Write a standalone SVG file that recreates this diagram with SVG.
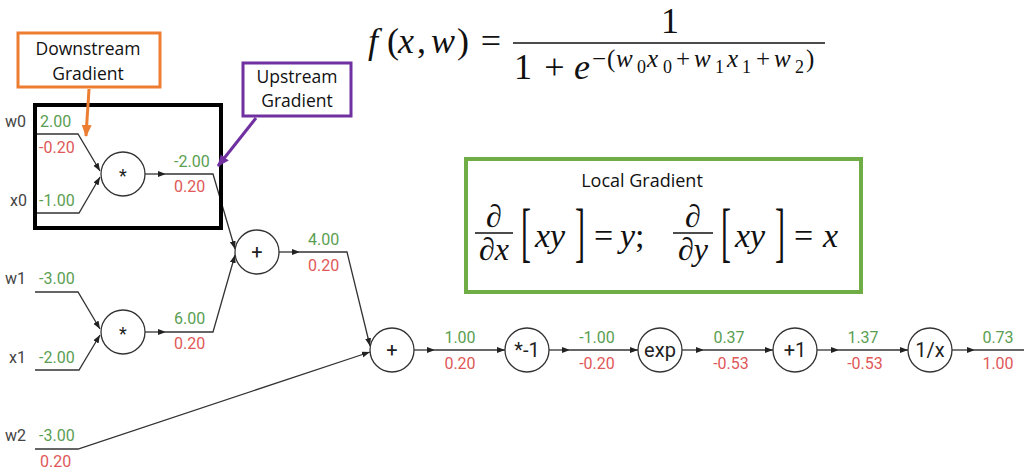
<svg xmlns="http://www.w3.org/2000/svg" width="1024" height="475" viewBox="0 0 1024 475">
<defs>
<style>
.edge{fill:none;stroke:#333;stroke-width:1.3;marker-end:url(#ah)}
.node circle{fill:#fff;stroke:#333;stroke-width:1.3}
.op{font-family:Roboto,"Liberation Sans",sans-serif;font-size:20px;fill:#222;text-anchor:middle}
.g{font-family:Roboto,"Liberation Sans",sans-serif;font-size:16px;fill:#5a9e52}
.r{font-family:Roboto,"Liberation Sans",sans-serif;font-size:16px;fill:#e05858}
.lbl{font-family:Roboto,"Liberation Sans",sans-serif;font-size:16px;fill:#444}
.c{text-anchor:middle}
.call{font-family:"Open Sans","Liberation Sans",sans-serif;font-size:17.5px;fill:#111;text-anchor:middle}
.m{font-family:"Liberation Serif","DejaVu Serif",serif;fill:#111}
.i{font-style:italic}
.big{font-size:36px}
.sup{font-size:25px}
.sub{font-size:18px}
.mid{text-anchor:middle}
</style>
<marker id="ah" markerUnits="userSpaceOnUse" markerWidth="9" markerHeight="7" refX="8" refY="3" orient="auto">
<path d="M0,0 L8,3 L0,6 z" fill="#222"/>
</marker>
<marker id="ahO" markerUnits="userSpaceOnUse" markerWidth="14" markerHeight="12" refX="11" refY="5" orient="auto">
<path d="M0,0 L12,5 L0,10 z" fill="#ed7d31"/>
</marker>
<marker id="ahP" markerUnits="userSpaceOnUse" markerWidth="14" markerHeight="12" refX="11" refY="5" orient="auto">
<path d="M0,0 L12,5 L0,10 z" fill="#7030a0"/>
</marker>
</defs>
<rect width="1024" height="475" fill="#fff"/>

<g id="connectors">
<path class="edge" d="M35,134 L78,134 L100,171"/>
<path class="edge" d="M35,213 L79,213 L100,177"/>
<path class="edge" d="M145,174 L166,174"/>
<path class="edge" d="M166,174 L213,174 L235,249"/>
<path class="edge" d="M35,292 L78,292 L100,329"/>
<path class="edge" d="M35,370 L79,370 L100,335"/>
<path class="edge" d="M145,332 L166,332"/>
<path class="edge" d="M166,332 L213,332 L235,255"/>
<path class="edge" d="M279,252 L300,252"/>
<path class="edge" d="M300,252 L347,252 L370,346"/>
<path class="edge" d="M35,449 L78,449 L370,352"/>
<path class="edge" d="M414,350 L435,350"/>
<path class="edge" d="M435,350 L505,350"/>
<path class="edge" d="M549,350 L570,350"/>
<path class="edge" d="M570,350 L638,350"/>
<path class="edge" d="M682,350 L704,350"/>
<path class="edge" d="M704,350 L773,350"/>
<path class="edge" d="M817,350 L839,350"/>
<path class="edge" d="M839,350 L908,350"/>
<path class="edge" d="M952,350 L975,350"/>
<path class="edge" d="M975,350 L1024,350" style="marker-end:none"/>
</g>

<g id="inputs">
<text class="lbl" x="5" y="127">w0</text>
<text class="g" x="40" y="127">2.00</text>
<text class="r" x="39" y="153">-0.20</text>
<text class="lbl" x="10" y="206">x0</text>
<text class="g" x="39" y="206">-1.00</text>
<text class="lbl" x="5" y="284">w1</text>
<text class="g" x="39" y="284">-3.00</text>
<text class="lbl" x="9" y="363">x1</text>
<text class="g" x="39" y="363">-2.00</text>
<text class="lbl" x="5" y="441">w2</text>
<text class="g" x="39" y="441">-3.00</text>
<text class="r" x="40" y="467">0.20</text>
</g>

<g id="mul0" class="node">
<circle cx="123" cy="174" r="22"/>
<text class="op" x="123" y="182" style="font-size:18px">*</text>
<text class="g" x="174" y="167">-2.00</text>
<text class="r" x="174" y="192">0.20</text>
</g>
<g id="mul1" class="node">
<circle cx="123" cy="332" r="22"/>
<text class="op" x="123" y="340" style="font-size:18px">*</text>
<text class="g" x="174" y="324">6.00</text>
<text class="r" x="174" y="349">0.20</text>
</g>
<g id="add0" class="node">
<circle cx="257" cy="252" r="22"/>
<text class="op" x="257" y="259">+</text>
<text class="g" x="308" y="245">4.00</text>
<text class="r" x="308" y="271">0.20</text>
</g>
<g id="add1" class="node">
<circle cx="392" cy="350" r="22"/>
<text class="op" x="392" y="357">+</text>
<text class="g c" x="460" y="343">1.00</text>
<text class="r c" x="460" y="369">0.20</text>
</g>
<g id="neg" class="node">
<circle cx="527" cy="350" r="22"/>
<text class="op" x="527" y="357">*-1</text>
<text class="g c" x="597" y="343">-1.00</text>
<text class="r c" x="597" y="369">-0.20</text>
</g>
<g id="exp" class="node">
<circle cx="660" cy="350" r="22"/>
<text class="op" x="660" y="357">exp</text>
<text class="g c" x="729" y="343">0.37</text>
<text class="r c" x="731" y="369">-0.53</text>
</g>
<g id="plus1" class="node">
<circle cx="795" cy="350" r="22"/>
<text class="op" x="795" y="357">+1</text>
<text class="g c" x="863" y="343">1.37</text>
<text class="r c" x="865" y="369">-0.53</text>
</g>
<g id="recip" class="node">
<circle cx="930" cy="350" r="22"/>
<text class="op" x="930" y="357">1/x</text>
<text class="g c" x="998" y="343">0.73</text>
<text class="r c" x="998" y="369">1.00</text>
</g>

<g id="highlight">
<rect x="35" y="105" width="186" height="123" fill="none" stroke="#000" stroke-width="4"/>
</g>

<g id="downstream">
<rect x="18" y="33" width="142" height="54" fill="#fff" stroke="#ed7d31" stroke-width="3"/>
<text class="call" x="88" y="55">Downstream</text>
<text class="call" x="88" y="80">Gradient</text>
<line x1="89" y1="89" x2="86" y2="136" stroke="#ed7d31" stroke-width="3" marker-end="url(#ahO)"/>
</g>

<g id="upstream">
<rect x="243" y="63" width="108" height="53" fill="#fff" stroke="#7030a0" stroke-width="3"/>
<text class="call" x="297" y="83">Upstream</text>
<text class="call" x="297" y="107">Gradient</text>
<line x1="256" y1="118" x2="218" y2="166" stroke="#7030a0" stroke-width="3" marker-end="url(#ahP)"/>
</g>

<g id="formula" class="m">
<text class="big" y="53"><tspan class="i" x="368">f</tspan><tspan x="387">(</tspan><tspan class="i" x="398">x</tspan><tspan x="417">,</tspan><tspan class="i" x="431">w</tspan><tspan x="457">)</tspan></text>
<text class="big mid" x="491" y="53">=</text>
<text class="big mid" x="670" y="33">1</text>
<line x1="513" y1="43" x2="825" y2="43" stroke="#111" stroke-width="1.4"/>
<text class="big" y="79"><tspan class="mid" x="523">1</tspan><tspan class="mid" x="554.5">+</tspan><tspan class="i" x="574">e</tspan></text>
<text class="sup" y="67"><tspan x="592">−</tspan><tspan x="607">(</tspan><tspan class="i" x="616">w</tspan><tspan class="sub" x="637" y="73">0</tspan><tspan class="i" x="647" y="67">x</tspan><tspan class="sub" x="663" y="73">0</tspan><tspan x="676" y="67">+</tspan><tspan class="i" x="694">w</tspan><tspan class="sub" x="715" y="73">1</tspan><tspan class="i" x="727" y="67">x</tspan><tspan class="sub" x="742" y="73">1</tspan><tspan x="756" y="67">+</tspan><tspan class="i" x="774">w</tspan><tspan class="sub" x="795" y="73">2</tspan><tspan x="806" y="67">)</tspan></text>
</g>

<g id="local-gradient" class="m">
<rect x="466" y="159" width="395" height="133" fill="none" stroke="#70ad47" stroke-width="4"/>
<text class="call" x="642" y="187" style="font-size:18px">Local Gradient</text>
<text x="494" y="227" font-size="32" text-anchor="middle">∂</text>
<line x1="475" y1="233" x2="513" y2="233" stroke="#111" stroke-width="1.4"/>
<text x="494" y="260" font-size="32" text-anchor="middle">∂<tspan class="i">x</tspan></text>
<text x="0" y="0" font-size="30" transform="translate(521,253.6) scale(1,2.15)">[</text>
<text class="i" x="535" y="247" font-size="34">xy</text>
<text x="0" y="0" font-size="30" transform="translate(575,253.6) scale(1,2.15)">]</text>
<text x="594" y="247" font-size="34">=</text>
<text x="620" y="247" font-size="34"><tspan class="i">y</tspan>;</text>
<text x="693" y="227" font-size="32" text-anchor="middle">∂</text>
<line x1="673" y1="233" x2="713" y2="233" stroke="#111" stroke-width="1.4"/>
<text x="693" y="260" font-size="32" text-anchor="middle">∂<tspan class="i">y</tspan></text>
<text x="0" y="0" font-size="30" transform="translate(721,253.6) scale(1,2.15)">[</text>
<text class="i" x="735" y="247" font-size="34">xy</text>
<text x="0" y="0" font-size="30" transform="translate(775,253.6) scale(1,2.15)">]</text>
<text x="794" y="247" font-size="34">=</text>
<text class="i" x="823" y="247" font-size="34">x</text>
</g>
</svg>
